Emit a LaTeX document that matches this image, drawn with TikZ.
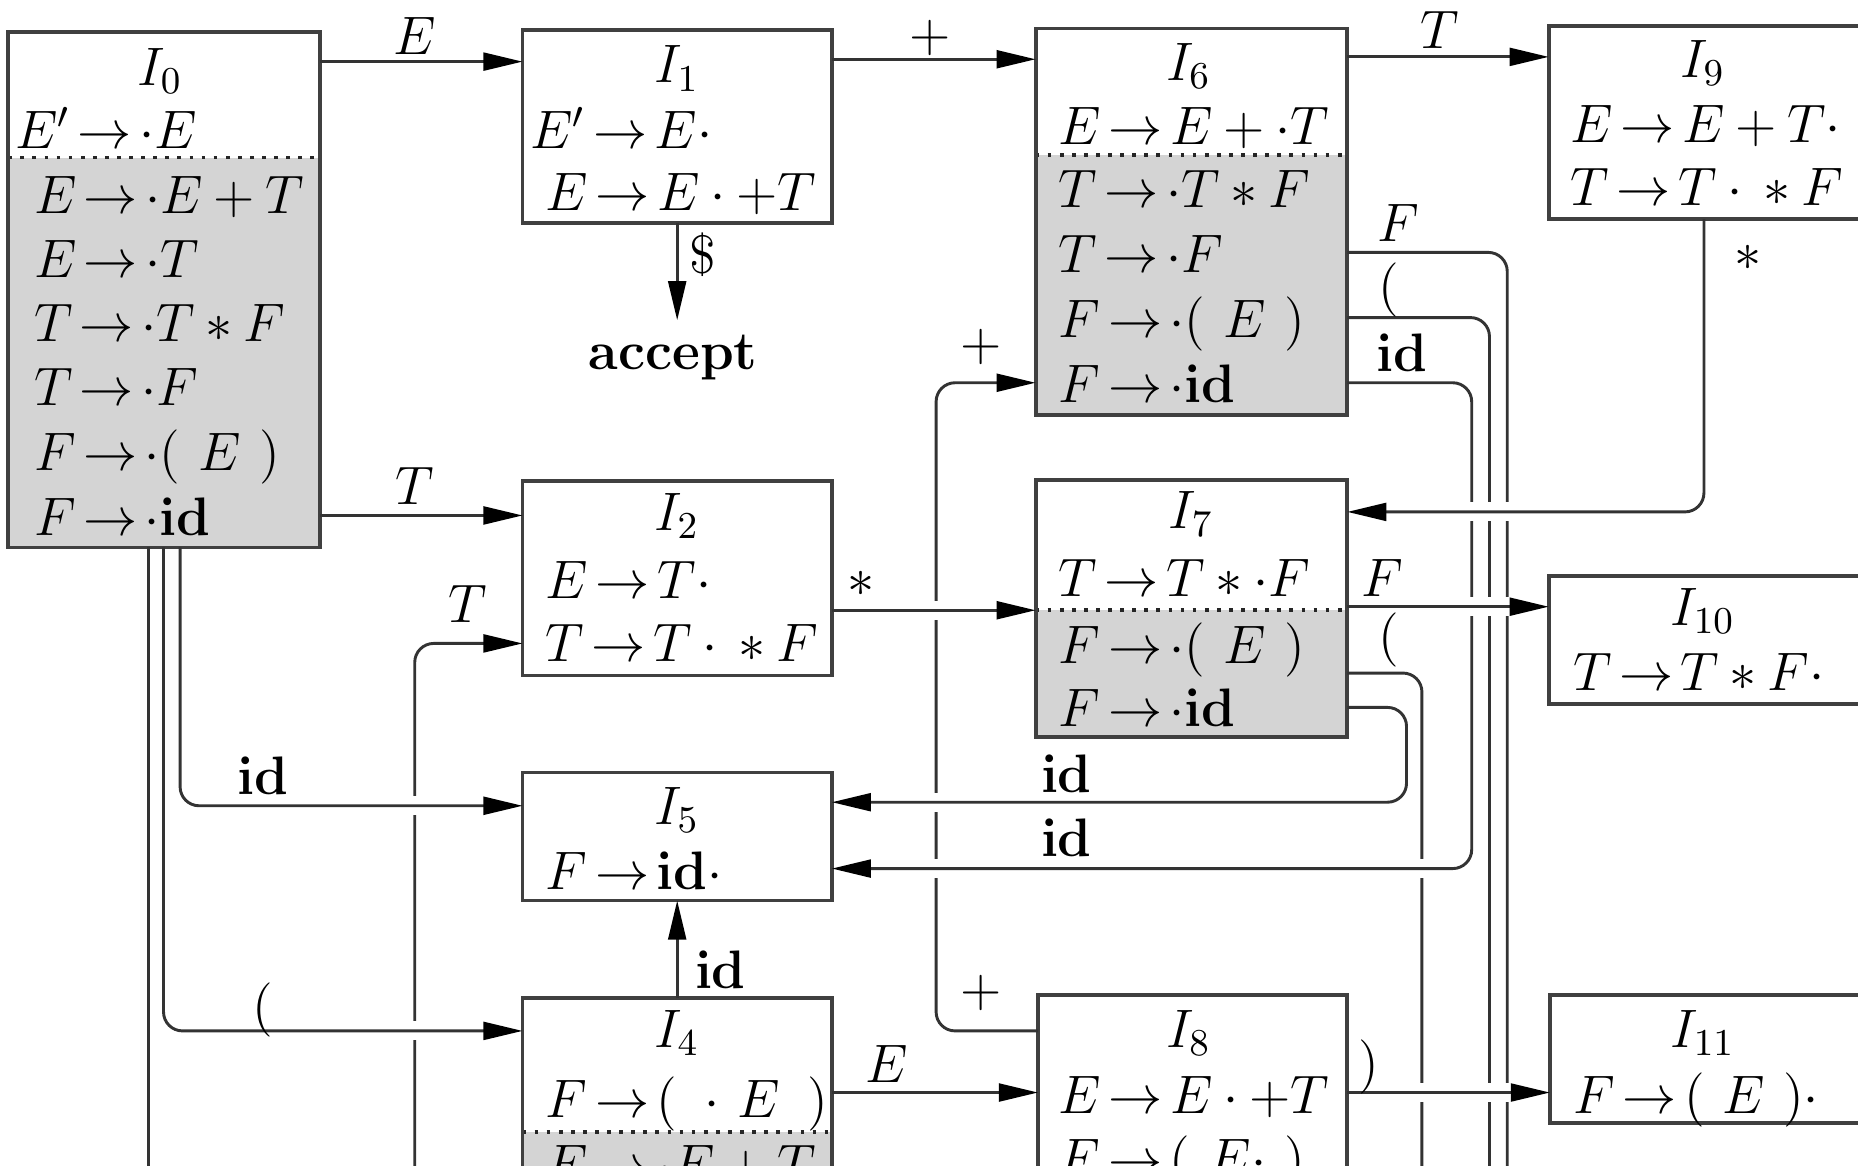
\RequirePackage{fix-cm}
\documentclass[tikz,border=0pt]{standalone}
\usetikzlibrary{arrows.meta,calc,fit}
\newcommand\myfont{\fontsize{13}{15}\selectfont\thickmuskip=2.5mu plus 2mu\medmuskip=3.5mu plus 2mu minus 4mu}
\newcommand\pg{\mkern6mu}
\begin{document}
\begin{tikzpicture}[x=0.01cm,y=-0.01cm,
 box/.style={draw=black!75, line width=0.9pt, inner sep=0pt, outer sep=0pt},
 shd/.style={fill=black!17},
 sepl/.style={black!85, line width=0.9pt, dotted},
 itm/.style={anchor=base west, inner sep=0pt, font=\myfont},
 ttl/.style={anchor=base, inner sep=0pt, font=\myfont},
 lbl/.style={inner sep=0pt, font=\myfont},
 con/.style={draw=black!80, line width=0.7pt, rounded corners=0.16cm},
 arr/.style={con, -{Triangle[length=0.33cm,width=0.15cm,black]}},
 gapw/.style={fill=white},
]
\useasboundingbox (0,0) rectangle (1568,984);

% shading of closure items
\fill[shd] (7,133) rectangle (270,462);
\fill[shd] (874,131) rectangle (1137,350);
\fill[shd] (874,515) rectangle (1137,622);
\fill[shd] (441,955) rectangle (702,1060);
% separators
\draw[sepl] (7,133) -- (270,133);
\draw[sepl] (874,131) -- (1137,131);
\draw[sepl] (874,515) -- (1137,515);
\draw[sepl] (441,955) -- (702,955);

% boxes
\node[box, fit={(7,27) (270,462)}] (I0) {};
\node[box, fit={(441,25) (702,188)}] (I1) {};
\node[box, fit={(874,24) (1137,350)}] (I6) {};
\node[box, fit={(1307,22) (1640,185)}] (I9) {};
\node[box, fit={(441,406) (702,570)}] (I2) {};
\node[box, fit={(874,405) (1137,622)}] (I7) {};
\node[box, fit={(1307,486) (1640,594)}] (I10) {};
\node[box, fit={(441,652) (702,760)}] (I5) {};
\node[box, fit={(441,842) (702,1060)}] (I4) {};
\node[box, fit={(876,840) (1137,1060)}] (I8) {};
\node[box, fit={(1308,840) (1640,948)}] (I11) {};

% box texts
\node[ttl] (t0) at (135,72) {$I_0$};
\node[itm] (t0a) at (12,125) {$E'\to{\cdot}E$};
\node[itm] (t0b) at (28,180) {$E\to{\cdot}E+T$};
\node[itm] (t0c) at (28,234) {$E\to{\cdot}T$};
\node[itm] (t0d) at (28,288) {$T\to{\cdot}T*F$};
\node[itm] (t0e) at (28,342) {$T\to{\cdot}F$};
\node[itm] (t0f) at (28,397) {$F\to{\cdot}(\pg E\pg)$};
\node[itm] (t0g) at (28,452) {$F\to{\cdot}\mathbf{id}$};

\node[ttl] (t1) at (571,70) {$I_1$};
\node[itm] (t1a) at (447,125) {$E'\to E{\cdot}$};
\node[itm] (t1b) at (460,178) {$E\to E\cdot +T$};

\node[ttl] (t6) at (1003,68) {$I_6$};
\node[itm] (t6a) at (893,122) {$E\to E+{\cdot}T$};
\node[itm] (t6b) at (893,175) {$T\to{\cdot}T*F$};
\node[itm] (t6c) at (893,230) {$T\to{\cdot}F$};
\node[itm] (t6d) at (893,285) {$F\to{\cdot}(\pg E\pg)$};
\node[itm] (t6e) at (893,340) {$F\to{\cdot}\mathbf{id}$};

\node[ttl] (t9) at (1437,65) {$I_9$};
\node[itm] (t9a) at (1325,120) {$E\to E+T{\cdot}$};
\node[itm] (t9b) at (1325,173) {$T\to T\cdot{}*F$};

\node[ttl] (t2) at (571,448) {$I_2$};
\node[itm] (t2a) at (460,505) {$E\to T{\cdot}$};
\node[itm] (t2b) at (460,558) {$T\to T\cdot{}*F$};

\node[ttl] (t7) at (1005,446) {$I_7$};
\node[itm] (t7a) at (893,503) {$T\to T*{\cdot}F$};
\node[itm] (t7b) at (893,560) {$F\to{\cdot}(\pg E\pg)$};
\node[itm] (t7c) at (893,613) {$F\to{\cdot}\mathbf{id}$};

\node[ttl] (t10) at (1437,528) {$I_{10}$};
\node[itm] (t10a) at (1327,583) {$T\to T*F{\cdot}$};

\node[ttl] (t5) at (571,696) {$I_5$};
\node[itm] (t5a) at (460,751) {$F\to\mathbf{id}{\cdot}$};

\node[ttl] (t4) at (571,884) {$I_4$};
\node[itm] (t4a) at (460,943) {$F\to(\mkern9mu{\cdot}\mkern6mu E\mkern9mu)$};
\node[itm] (t4b) at (460,998) {$E\to{\cdot}E+T$};

\node[ttl] (t8) at (1003,884) {$I_8$};
\node[itm] (t8a) at (893,940) {$E\to E\cdot +T$};
\node[itm] (t8b) at (893,993) {$F\to(\pg E{\cdot}\pg)$};

\node[ttl] (t11) at (1437,884) {$I_{11}$};
\node[itm] (t11a) at (1327,940) {$F\to(\pg E\pg){\cdot}$};

\node[lbl, anchor=base] (acc) at (568,312) {\textbf{accept}};

% free ends (off the visible part)
\coordinate (oF0) at (125,1000);
\coordinate (oT4) at (350,1000);
\coordinate (oF6) at (1272,1000);
\coordinate (oP6) at (1257,1000);
\coordinate (oP7) at (1200,1000);

% layer 1: lines that get crossed
\draw[con] ($(I0.south west)+(118,0)$) -- (oF0);
\draw[arr] (oT4) |- ($(I2.north west)+(0,137)$);
\draw[arr] ($(I8.north west)+(0,30)$) -- ++(-86,0) |- ($(I6.north west)+(0,299)$);
\draw[con] ($(I6.north east)+(0,189)$) -| (oF6);
\draw[con] ($(I6.north east)+(0,244)$) -| (oP6);
\draw[con] ($(I7.north east)+(0,163)$) -| (oP7);
\foreach \p in {(350,680),(350,870),(790,515),(790,677),(790,733),(1257,432),(1272,432),(1257,512),(1272,512),(1200,733),(1200,922),(1257,922),(1272,922)}
  \fill[gapw] \p ++(-4,-8) rectangle ++(8,16);
% layer 2
\draw[arr] ($(I6.north east)+(0,299)$) -- ++(105,0) |- ($(I5.north east)+(0,81)$);
\foreach \p in {(1242,432),(1242,512)}
  \fill[gapw] \p ++(-4,-8) rectangle ++(8,16);
% layer 3
\draw[arr] ($(I0.north east)+(0,25)$) -- ($(I1.north west)+(0,27)$);
\draw[arr] ($(I0.north east)+(0,408)$) -- ($(I2.north west)+(0,29)$);
\draw[arr, shorten >=0.12cm] (I1.south) -- (I1.south |- acc.north);
\draw[arr] ($(I1.north east)+(0,25)$) -- ($(I6.north west)+(0,26)$);
\draw[arr] ($(I6.north east)+(0,24)$) -- ($(I9.north west)+(0,26)$);
\draw[arr] ($(I9.south west)+(131,0)$) |- ($(I7.north east)+(0,27)$);
\draw[arr] ($(I2.north east)+(0,109)$) -- ($(I7.north west)+(0,110)$);
\draw[arr] ($(I7.north east)+(0,107)$) -- ($(I10.north west)+(0,26)$);
\draw[arr] ($(I0.south west)+(145,0)$) |- ($(I5.north west)+(0,28)$);
\draw[arr] ($(I0.south west)+(131,0)$) |- ($(I4.north west)+(0,28)$);
\draw[arr] ($(I7.north east)+(0,192)$) -- ++(50,0) |- ($(I5.north east)+(0,25)$);
\draw[arr] (I4.north) -- (I5.south);
\draw[arr] ($(I4.north east)+(0,80)$) -- ($(I8.north west)+(0,82)$);
\draw[arr] ($(I8.north east)+(0,82)$) -- ($(I11.north west)+(0,82)$);

% labels
\node[lbl] (lE1) at (350,30) {$E$};
\node[lbl] (lT2) at (350,410) {$T$};
\node[lbl] (lD3) at (593,215) {\$};
\node[lbl] (lP4) at (785,32) {$+$};
\node[lbl] (lT5) at (1215,25) {$T$};
\node[lbl] (lS6) at (1475,218) {$*$};
\node[lbl] (lS7) at (727,493) {$*$};
\node[lbl] (lF8) at (1167,488) {$F$};
\node[lbl] (lI9) at (222,655) {$\mathbf{id}$};
\node[lbl] (lL10) at (222,852) {$($};
\node[lbl] (lT12) at (395,510) {$T$};
\node[lbl] (lP13a) at (828,293) {$+$};
\node[lbl] (lP13b) at (828,838) {$+$};
\node[lbl] (lF14) at (1180,188) {$F$};
\node[lbl] (lL15) at (1172,245) {$($};
\node[lbl] (lI16a) at (1183,298) {$\mathbf{id}$};
\node[lbl] (lI16b) at (900,707) {$\mathbf{id}$};
\node[lbl] (lL17) at (1172,540) {$($};
\node[lbl] (lI18) at (900,653) {$\mathbf{id}$};
\node[lbl] (lI19) at (608,818) {$\mathbf{id}$};
\node[lbl] (lE20) at (748,898) {$E$};
\node[lbl] (lR21) at (1155,900) {$)$};
\end{tikzpicture}
\end{document}
